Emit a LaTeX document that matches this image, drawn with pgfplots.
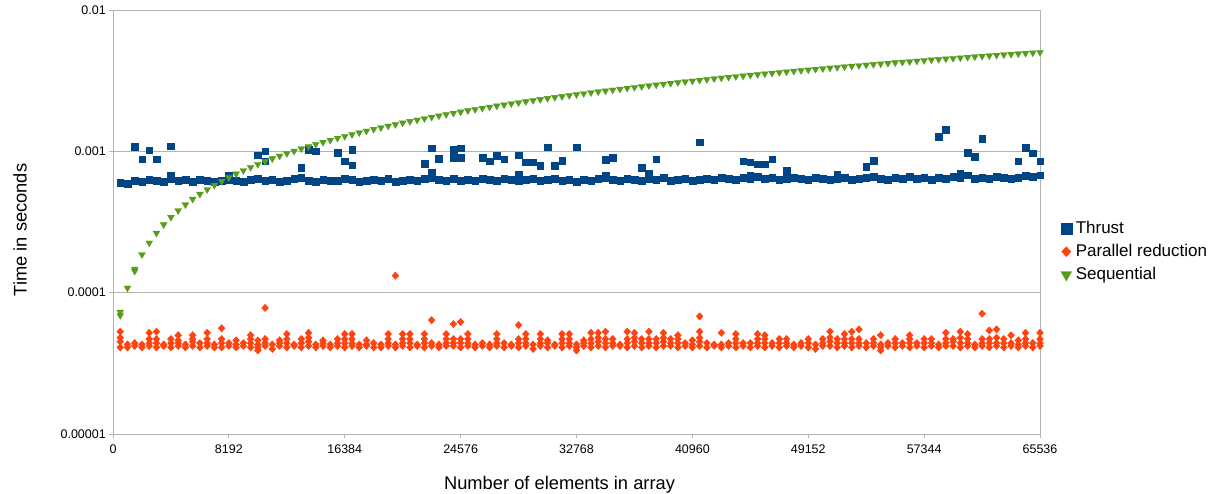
\documentclass[border=0pt]{standalone}
\usepackage{fontspec}
\setmainfont{Liberation Sans}
\usepackage{pgfplots}
\usepackage{pgfplotstable}
\pgfplotsset{compat=1.18}
\definecolor{thrust}{HTML}{004586}
\definecolor{parred}{HTML}{FF420E}
\definecolor{seqgreen}{HTML}{579D1C}
\definecolor{gridgrey}{HTML}{B3B3B3}

\pgfplotstableread{
x t pa pb pc s
512 6.0e-4 4.1e-5 4.5e-5 4.8e-5 6.9e-5
1024 5.9e-4 4.1e-5 4.3e-5 nan 10.8e-5
1536 6.2e-4 4.2e-5 4.4e-5 nan 14.7e-5
2048 6.1e-4 4.1e-5 4.3e-5 nan 18.6e-5
2560 6.3e-4 4.2e-5 4.4e-5 4.7e-5 22.5e-5
3072 6.2e-4 4.1e-5 4.4e-5 4.7e-5 26.4e-5
3584 6.1e-4 4.2e-5 4.3e-5 nan 30.3e-5
4096 6.4e-4 4.1e-5 4.4e-5 4.7e-5 34.2e-5
4608 6.2e-4 4.2e-5 4.4e-5 4.6e-5 38.1e-5
5120 6.3e-4 4.1e-5 4.3e-5 nan 42.0e-5
5632 6.1e-4 4.2e-5 4.5e-5 4.7e-5 45.9e-5
6144 6.3e-4 4.1e-5 4.4e-5 nan 49.8e-5
6656 6.2e-4 4.2e-5 4.4e-5 4.7e-5 53.7e-5
7168 6.1e-4 4.1e-5 4.3e-5 nan 57.6e-5
7680 6.2e-4 4.1e-5 4.4e-5 4.7e-5 61.5e-5
8192 6.3e-4 4.2e-5 4.4e-5 nan 65.4e-5
8704 6.2e-4 4.1e-5 4.3e-5 4.6e-5 69.3e-5
9216 6.1e-4 4.2e-5 4.4e-5 nan 73.2e-5
9728 6.3e-4 4.1e-5 4.4e-5 4.7e-5 77.1e-5
10240 6.4e-4 4.1e-5 4.3e-5 4.6e-5 81.0e-5
10752 6.2e-4 4.2e-5 4.4e-5 4.7e-5 84.9e-5
11264 6.3e-4 4.0e-5 4.3e-5 nan 88.8e-5
11776 6.1e-4 4.2e-5 4.4e-5 4.6e-5 92.7e-5
12288 6.2e-4 4.1e-5 4.4e-5 4.7e-5 96.6e-5
12800 6.4e-4 4.2e-5 4.3e-5 nan 100.5e-5
13312 6.5e-4 4.1e-5 4.4e-5 4.7e-5 104.4e-5
13824 6.2e-4 4.2e-5 4.5e-5 4.8e-5 108.3e-5
14336 6.1e-4 4.1e-5 4.3e-5 nan 112.2e-5
14848 6.3e-4 4.2e-5 4.4e-5 4.6e-5 116.1e-5
15360 6.2e-4 4.1e-5 4.3e-5 nan 120.0e-5
15872 6.2e-4 4.2e-5 4.4e-5 4.7e-5 123.9e-5
16384 6.4e-4 4.1e-5 4.4e-5 4.7e-5 127.8e-5
16896 6.3e-4 4.2e-5 4.4e-5 4.7e-5 131.7e-5
17408 6.1e-4 4.1e-5 4.3e-5 nan 135.6e-5
17920 6.2e-4 4.2e-5 4.3e-5 4.6e-5 139.5e-5
18432 6.3e-4 4.1e-5 4.4e-5 nan 143.4e-5
18944 6.2e-4 4.1e-5 4.3e-5 nan 147.3e-5
19456 6.4e-4 4.2e-5 4.4e-5 4.7e-5 151.2e-5
19968 6.1e-4 4.1e-5 4.3e-5 nan 155.1e-5
20480 6.2e-4 4.2e-5 4.4e-5 4.7e-5 159.0e-5
20992 6.3e-4 4.1e-5 4.4e-5 4.7e-5 162.9e-5
21504 6.2e-4 4.2e-5 4.3e-5 nan 166.8e-5
22016 6.4e-4 4.1e-5 4.4e-5 4.7e-5 170.7e-5
22528 6.5e-4 4.2e-5 4.4e-5 nan 174.6e-5
23040 6.3e-4 4.1e-5 4.3e-5 nan 178.5e-5
23552 6.2e-4 4.2e-5 4.4e-5 4.7e-5 182.4e-5
24064 6.4e-4 4.2e-5 4.4e-5 4.7e-5 186.3e-5
24576 6.2e-4 4.1e-5 4.4e-5 4.7e-5 190.2e-5
25088 6.3e-4 4.2e-5 4.4e-5 4.7e-5 194.1e-5
25600 6.2e-4 4.1e-5 4.3e-5 nan 198.0e-5
26112 6.4e-4 4.2e-5 4.4e-5 nan 201.9e-5
26624 6.3e-4 4.1e-5 4.3e-5 nan 205.8e-5
27136 6.2e-4 4.2e-5 4.4e-5 4.7e-5 209.7e-5
27648 6.4e-4 4.1e-5 4.4e-5 nan 213.6e-5
28160 6.3e-4 4.2e-5 4.3e-5 nan 217.5e-5
28672 6.2e-4 4.1e-5 4.4e-5 4.7e-5 221.4e-5
29184 6.3e-4 4.2e-5 4.4e-5 4.7e-5 225.3e-5
29696 6.4e-4 4.0e-5 4.3e-5 nan 229.2e-5
30208 6.2e-4 4.2e-5 4.4e-5 4.7e-5 233.1e-5
30720 6.3e-4 4.1e-5 4.4e-5 4.6e-5 237.0e-5
31232 6.4e-4 4.2e-5 4.3e-5 nan 240.9e-5
31744 6.2e-4 4.1e-5 4.4e-5 4.7e-5 244.8e-5
32256 6.3e-4 4.2e-5 4.4e-5 4.7e-5 248.7e-5
32768 6.1e-4 4.1e-5 4.3e-5 nan 252.6e-5
33280 6.3e-4 4.2e-5 4.4e-5 4.6e-5 256.5e-5
33792 6.2e-4 4.1e-5 4.4e-5 4.7e-5 260.4e-5
34304 6.4e-4 4.2e-5 4.5e-5 4.8e-5 264.3e-5
34816 6.5e-4 4.1e-5 4.4e-5 4.7e-5 268.2e-5
35328 6.3e-4 4.2e-5 4.4e-5 4.7e-5 272.1e-5
35840 6.2e-4 4.2e-5 4.3e-5 nan 276.0e-5
36352 6.4e-4 4.1e-5 4.4e-5 4.7e-5 279.9e-5
36864 6.3e-4 4.2e-5 4.5e-5 4.8e-5 283.8e-5
37376 6.2e-4 4.1e-5 4.4e-5 4.7e-5 287.7e-5
37888 6.4e-4 4.2e-5 4.4e-5 4.7e-5 291.6e-5
38400 6.3e-4 4.1e-5 4.4e-5 4.7e-5 295.5e-5
38912 6.5e-4 4.2e-5 4.5e-5 4.8e-5 299.4e-5
39424 6.2e-4 4.2e-5 4.4e-5 4.7e-5 303.3e-5
39936 6.3e-4 4.1e-5 4.4e-5 4.7e-5 307.2e-5
40448 6.4e-4 4.2e-5 4.4e-5 nan 311.1e-5
40960 6.2e-4 4.1e-5 4.3e-5 4.6e-5 315.0e-5
41472 6.3e-4 4.2e-5 4.5e-5 4.8e-5 318.9e-5
41984 6.4e-4 4.1e-5 4.4e-5 nan 322.8e-5
42496 6.3e-4 4.2e-5 4.3e-5 nan 326.7e-5
43008 6.5e-4 4.1e-5 4.3e-5 nan 330.6e-5
43520 6.4e-4 4.2e-5 4.4e-5 nan 334.5e-5
44032 6.3e-4 4.1e-5 4.4e-5 4.7e-5 338.4e-5
44544 6.5e-4 4.2e-5 4.4e-5 nan 342.3e-5
45056 6.4e-4 4.1e-5 4.4e-5 nan 346.2e-5
45568 6.6e-4 4.2e-5 4.4e-5 4.7e-5 350.1e-5
46080 6.4e-4 4.1e-5 4.4e-5 4.7e-5 354.0e-5
46592 6.5e-4 4.2e-5 4.4e-5 nan 357.9e-5
47104 6.3e-4 4.1e-5 4.4e-5 4.7e-5 361.8e-5
47616 6.4e-4 4.2e-5 4.4e-5 4.7e-5 365.7e-5
48128 6.5e-4 4.1e-5 4.3e-5 nan 369.6e-5
48640 6.4e-4 4.2e-5 4.4e-5 nan 373.5e-5
49152 6.3e-4 4.1e-5 4.4e-5 4.7e-5 377.4e-5
49664 6.5e-4 4.0e-5 4.3e-5 nan 381.3e-5
50176 6.4e-4 4.2e-5 4.4e-5 4.7e-5 385.2e-5
50688 6.3e-4 4.2e-5 4.5e-5 4.8e-5 389.1e-5
51200 6.4e-4 4.1e-5 4.4e-5 4.7e-5 393.0e-5
51712 6.5e-4 4.2e-5 4.4e-5 4.7e-5 396.9e-5
52224 6.3e-4 4.1e-5 4.4e-5 4.7e-5 400.8e-5
52736 6.4e-4 4.2e-5 4.4e-5 4.7e-5 404.7e-5
53248 6.5e-4 4.1e-5 4.4e-5 nan 408.6e-5
53760 6.6e-4 4.2e-5 4.4e-5 4.7e-5 412.5e-5
54272 6.4e-4 4.1e-5 4.3e-5 nan 416.4e-5
54784 6.3e-4 4.2e-5 4.4e-5 nan 420.3e-5
55296 6.5e-4 4.1e-5 4.4e-5 4.7e-5 424.2e-5
55808 6.4e-4 4.2e-5 4.4e-5 nan 428.1e-5
56320 6.6e-4 4.1e-5 4.4e-5 4.7e-5 432.0e-5
56832 6.4e-4 4.2e-5 4.4e-5 nan 435.9e-5
57344 6.5e-4 4.1e-5 4.4e-5 4.7e-5 439.8e-5
57856 6.3e-4 4.2e-5 4.4e-5 4.7e-5 443.7e-5
58368 6.5e-4 4.1e-5 4.3e-5 nan 447.6e-5
58880 6.4e-4 4.2e-5 4.4e-5 4.7e-5 451.5e-5
59392 6.6e-4 4.2e-5 4.5e-5 4.7e-5 455.4e-5
59904 6.5e-4 4.1e-5 4.4e-5 4.8e-5 459.3e-5
60416 6.8e-4 4.2e-5 4.4e-5 4.7e-5 463.2e-5
60928 6.4e-4 4.1e-5 4.3e-5 nan 467.1e-5
61440 6.5e-4 4.2e-5 4.4e-5 4.7e-5 471.0e-5
61952 6.4e-4 4.1e-5 4.4e-5 4.7e-5 474.9e-5
62464 6.6e-4 4.2e-5 4.4e-5 4.8e-5 478.8e-5
62976 6.5e-4 4.1e-5 4.4e-5 4.7e-5 482.7e-5
63488 6.4e-4 4.2e-5 4.4e-5 nan 486.6e-5
64000 6.5e-4 4.1e-5 4.3e-5 4.6e-5 490.5e-5
64512 6.7e-4 4.2e-5 4.4e-5 4.7e-5 494.4e-5
65024 6.6e-4 4.1e-5 4.4e-5 nan 498.3e-5
65536 6.8e-4 4.2e-5 4.4e-5 4.7e-5 502.2e-5
}\maindata

\pgfplotstableread{
x y
4096 6.7e-4
8192 6.7e-4
1536 10.8e-4
2048 8.8e-4
2560 10.2e-4
3072 8.8e-4
4096 10.9e-4
10240 9.4e-4
10752 10.0e-4
10752 8.5e-4
13312 7.7e-4
13824 10.3e-4
14336 10.0e-4
15872 9.8e-4
16384 8.5e-4
16896 10.3e-4
16896 8.0e-4
22016 8.2e-4
22528 10.5e-4
22528 7.1e-4
23040 8.9e-4
24064 10.3e-4
24064 9.0e-4
24576 10.5e-4
24576 9.0e-4
26112 9.0e-4
26624 8.5e-4
27136 9.3e-4
27648 8.8e-4
28672 9.4e-4
28672 6.9e-4
29184 8.4e-4
29696 8.4e-4
30208 7.9e-4
30720 10.7e-4
31232 7.9e-4
31744 8.6e-4
32768 10.7e-4
34816 8.7e-4
34816 6.8e-4
35328 9.0e-4
37376 7.7e-4
37888 7.0e-4
38400 8.8e-4
41472 11.6e-4
44544 8.5e-4
45056 8.4e-4
45056 6.8e-4
45568 8.1e-4
46080 8.1e-4
46592 8.8e-4
47616 7.3e-4
51200 6.9e-4
53248 7.8e-4
53760 8.6e-4
58368 12.7e-4
58880 14.3e-4
59904 7.0e-4
60416 9.8e-4
60928 9.2e-4
61440 12.3e-4
64000 8.5e-4
64512 10.6e-4
65024 9.7e-4
65536 8.5e-4
}\thrustextra

\pgfplotstableread{
x y
512 5.3e-5
2560 5.2e-5
3072 5.3e-5
4608 5.0e-5
5632 5.0e-5
6656 5.2e-5
7680 5.6e-5
9728 5.0e-5
10240 3.9e-5
10752 7.8e-5
12288 5.1e-5
13824 5.2e-5
16384 5.1e-5
16896 5.1e-5
19456 5.1e-5
19968 13.2e-5
20480 5.1e-5
20992 5.1e-5
22016 5.1e-5
22528 6.4e-5
23552 5.1e-5
24064 6.0e-5
24576 6.2e-5
25088 5.1e-5
27136 5.1e-5
28672 5.9e-5
29184 5.1e-5
30208 5.1e-5
31744 5.1e-5
32256 5.1e-5
32768 3.9e-5
33792 5.2e-5
34304 5.2e-5
34816 5.3e-5
36352 5.3e-5
36864 5.2e-5
37888 5.3e-5
38912 5.2e-5
39936 5.0e-5
41472 6.8e-5
41472 5.3e-5
43008 5.2e-5
44032 5.1e-5
45568 5.1e-5
46080 5.0e-5
50688 5.3e-5
51712 5.1e-5
52224 5.3e-5
52736 5.5e-5
54272 5.0e-5
54272 3.9e-5
56320 5.0e-5
58880 5.2e-5
59904 5.3e-5
60416 5.1e-5
61440 7.1e-5
61952 5.4e-5
62464 5.5e-5
63488 5.0e-5
64512 5.2e-5
65536 5.2e-5
}\prextra

\pgfplotstableread{
x y
512 7.3e-5
1536 14.2e-5
}\seqextra

\pgfplotsset{
  thr/.style={only marks, mark=square*, mark size=3.3bp, color=thrust,
    mark options={line width=0.3bp}},
  pr/.style={only marks, mark=diamond*, mark size=3.7bp, color=parred,
    mark options={xscale=1.25, line width=0.3bp}},
  sq/.style={only marks, mark=triangle*, mark size=4bp, color=seqgreen,
    mark options={rotate=180, line width=0.3bp}},
}

\begin{document}
\begin{tikzpicture}
\useasboundingbox (-113bp,-60bp) rectangle (1099bp,434bp);
\begin{axis}[
  at={(0,0)}, anchor=south west,
  scale only axis, width=927bp, height=424bp,
  ymode=log, xmin=0, xmax=65536, ymin=1e-5, ymax=1e-2,
  clip=false,
  scaled x ticks=false,
  xtick={0,8192,16384,24576,32768,40960,49152,57344,65536},
  xticklabels={0,8192,16384,24576,32768,40960,49152,57344,65536},
  ytick={1e-5,1e-4,1e-3,1e-2},
  yticklabels={0.00001,0.0001,0.001,0.01},
  yminorticks=false,
  xtick pos=bottom, ytick pos=left,
  tick align=outside, major tick length=4bp,
  tick style={gridgrey, line width=0.8bp},
  axis line style={gridgrey, line width=0.8bp},
  ymajorgrids, grid style={gridgrey, line width=0.8bp},
  ticklabel style={font=\fontsize{12.5bp}{15bp}\selectfont, text=black},
  xticklabel style={anchor=base, inner sep=0pt, yshift=-15.3bp},
  yticklabel style={anchor=east, inner sep=0pt, xshift=-3bp},
  xlabel={Number of elements in array},
  ylabel={Time in seconds},
  label style={font=\fontsize{18.3bp}{22bp}\selectfont, inner sep=0pt},
  xlabel style={at={(axis description cs:0.4817,-0.1297)}, anchor=base},
  ylabel style={at={(axis description cs:-0.0931,0.481)}, anchor=base},
  legend style={at={(axis description cs:1.0222,0.430)}, anchor=west,
    draw=none, fill=none, inner sep=0pt,
    font=\fontsize{17bp}{20bp}\selectfont, row sep=4bp, column sep=2.5bp,
    nodes={inner sep=1.5bp, text height=12.5bp, text depth=3.5bp}},
  legend cell align=left,
]
\addplot[thr, legend image post style={mark size=5.5bp}] table[x=x,y=t]{\maindata};
\addlegendentry{Thrust}
\addplot[thr, forget plot] table[x=x,y=y]{\thrustextra};
\addplot[pr, legend image post style={mark size=5bp}] table[x=x,y=pa]{\maindata};
\addlegendentry{Parallel reduction}
\addplot[pr, forget plot] table[x=x,y=pb]{\maindata};
\addplot[pr, forget plot] table[x=x,y=pc]{\maindata};
\addplot[pr, forget plot] table[x=x,y=y]{\prextra};
\addplot[sq, legend image post style={mark size=6.3bp}] table[x=x,y=s]{\maindata};
\addlegendentry{Sequential}
\addplot[sq, forget plot] table[x=x,y=y]{\seqextra};
\end{axis}
\end{tikzpicture}
\end{document}
